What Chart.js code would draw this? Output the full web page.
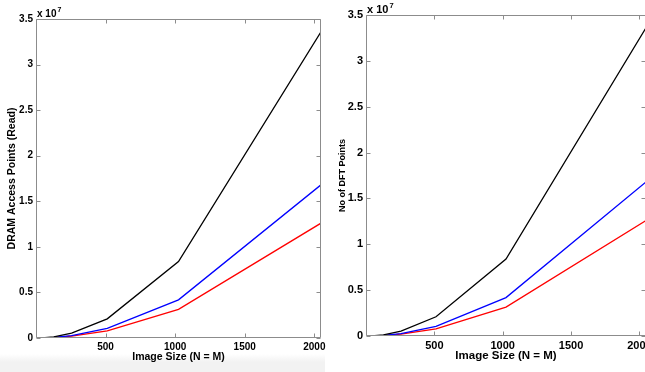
<!DOCTYPE html>
<html><head><meta charset="utf-8">
<script src="https://cdn.jsdelivr.net/npm/chart.js@4"></script>
<style>
html,body{margin:0;padding:0;background:#fff;overflow:hidden;width:645px;height:372px;position:relative;}
#band{position:absolute;left:0;top:354px;width:325px;height:18px;background:linear-gradient(#ffffff, #f2f2f2 45%, #f2f2f2);}
#c1{position:absolute;left:0;top:0;}
#c2{position:absolute;left:320px;top:0;}
</style></head><body>
<div id="band"></div>
<canvas id="c1" width="330" height="372"></canvas>
<canvas id="c2" width="330" height="372"></canvas>
<script>
// ---- data ----
const imageSizes = [32, 64, 128, 256, 512, 1024, 2048];
const seriesBlack = [8200, 32800, 131000, 524000, 2100000, 8390000, 33600000];
const seriesBlue  = [4100, 16400, 65500, 262000, 1050000, 4190000, 16800000];
const seriesRed   = [3100, 12300, 49000, 197000, 786000, 3150000, 12600000];
const xTickValues = [0, 500, 1000, 1500, 2000];
const xTickLabels = ['', '500', '1000', '1500', '2000'];
const yTickValues = [0, 5e6, 1e7, 1.5e7, 2e7, 2.5e7, 3e7, 3.5e7];
const yTickLabels = ['0', '0.5', '1', '1.5', '2', '2.5', '3', '3.5'];
const xTitle = 'Image Size (N = M)';
const leftYTitle = 'DRAM Access Points (Read)';
const rightYTitle = 'No of DFT Points';
const exponentText = 'x 10';
const exponentPower = '7';

const FONT = '"Liberation Sans", Arial, Helvetica, sans-serif';

const matlabAxes = {
  id: 'matlabAxes',
  afterDraw(chart, args, opts) {
    const {ctx, chartArea: a, scales: {x, y}} = chart;
    const L = Math.round(a.left) + 0.5, R = Math.round(a.right) - 0.5;
    const T = Math.round(a.top) + 0.5, B = Math.round(a.bottom) - 0.5;
    ctx.save();
    ctx.strokeStyle = '#8c8c8c';
    ctx.lineWidth = 1;
    ctx.beginPath();
    x.ticks.forEach(t => {
      const px = Math.round(x.getPixelForValue(t.value)) + 0.5;
      ctx.moveTo(px, B); ctx.lineTo(px, B - opts.tick);
      ctx.moveTo(px, T); ctx.lineTo(px, T + opts.tick);
    });
    y.ticks.forEach(t => {
      const py = Math.round(y.getPixelForValue(t.value)) + 0.5;
      ctx.moveTo(L, py); ctx.lineTo(L + opts.tick, py);
      ctx.moveTo(R, py); ctx.lineTo(R - opts.tick, py);
    });
    ctx.stroke();
    ctx.beginPath();
    ctx.rect(L, T, R - L, B - T);
    ctx.stroke();
    ctx.fillStyle = '#000';
    ctx.textAlign = 'left';
    ctx.textBaseline = 'alphabetic';
    ctx.font = 'bold ' + opts.expSize + 'px ' + FONT;
    const by = a.top - 2;
    ctx.fillText(exponentText, a.left + 1, by);
    const w = ctx.measureText(exponentText).width;
    ctx.font = 'bold ' + opts.supSize + 'px ' + FONT;
    ctx.fillText(exponentPower, a.left + 1 + w + 1, by - opts.expSize * 0.5);
    ctx.restore();
  }
};

function makeChart(id, cfg) {
  return new Chart(document.getElementById(id), {
    type: 'line',
    data: {
      datasets: [
        {data: imageSizes.map((v, i) => ({x: v, y: seriesBlack[i]})), borderColor: '#000000'},
        {data: imageSizes.map((v, i) => ({x: v, y: seriesBlue[i]})), borderColor: '#0000ff'},
        {data: imageSizes.map((v, i) => ({x: v, y: seriesRed[i]})), borderColor: '#ff0000'}
      ]
    },
    options: {
      responsive: false,
      animation: false,
      devicePixelRatio: 1,
      elements: {
        line: {borderWidth: 1.3, tension: 0, fill: false},
        point: {radius: 0, hoverRadius: 0}
      },
      layout: {padding: {left: 0, right: cfg.padRight, top: cfg.padTop, bottom: 0}},
      plugins: {
        legend: {display: false},
        tooltip: {enabled: false},
        matlabAxes: {tick: 4, expSize: cfg.expSize, supSize: cfg.supSize}
      },
      scales: {
        x: {
          type: 'linear', min: 0, max: 2048,
          grid: {display: false, drawTicks: false}, border: {display: false},
          afterBuildTicks: s => { s.ticks = xTickValues.map(v => ({value: v})); },
          afterFit: s => { s.height = cfg.xAxisH; s.paddingLeft = 0; s.paddingRight = 0; },
          ticks: {
            autoSkip: false, maxRotation: 0, minRotation: 0, padding: cfg.xTickPad,
            color: '#000', font: {family: FONT, size: cfg.tickSize, weight: 'bold'},
            callback: (v, i) => xTickLabels[i]
          },
          title: {
            display: true, text: xTitle, color: '#000',
            font: {family: FONT, size: cfg.xTitleSize, weight: 'bold'},
            padding: {top: 0, bottom: cfg.xTitlePad}
          }
        },
        y: {
          type: 'linear', min: 0, max: 3.5e7,
          grid: {display: false, drawTicks: false}, border: {display: false},
          afterBuildTicks: s => { s.ticks = yTickValues.map(v => ({value: v})); },
          afterFit: s => { s.width = cfg.yAxisW; s.paddingTop = 0; s.paddingBottom = 0; },
          ticks: {
            autoSkip: false, padding: cfg.yTickPad,
            color: '#000', font: {family: FONT, size: cfg.tickSize, weight: 'bold'},
            callback: (v, i) => yTickLabels[i]
          },
          title: {
            display: true, text: cfg.yTitle, color: '#000',
            font: {family: FONT, size: cfg.yTitleSize, weight: 'bold'},
            padding: {top: cfg.yTitlePad, bottom: 0}
          }
        }
      }
    },
    plugins: [matlabAxes]
  });
}

makeChart('c1', {
  padRight: 9, padTop: 19, xAxisH: 34, yAxisW: 36,
  tickSize: 10, xTickPad: 3, yTickPad: 3,
  xTitleSize: 10.5, xTitlePad: 9,
  yTitle: leftYTitle, yTitleSize: 10.5, yTitlePad: 6.2,
  expSize: 10, supSize: 7
});
makeChart('c2', {
  padRight: 4, padTop: 15, xAxisH: 36, yAxisW: 46,
  tickSize: 11, xTickPad: 3, yTickPad: 3,
  xTitleSize: 11.5, xTitlePad: 9,
  yTitle: rightYTitle, yTitleSize: 9, yTitlePad: 17.6,
  expSize: 11, supSize: 7.5
});
</script>
</body></html>
